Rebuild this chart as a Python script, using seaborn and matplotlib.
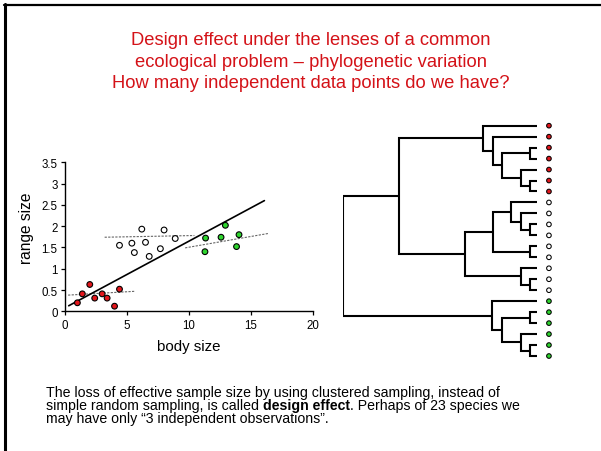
import numpy as np
import pandas as pd
import matplotlib
matplotlib.use("Agg")
import matplotlib.pyplot as plt
import seaborn as sns
from matplotlib.lines import Line2D

# ---------------- data ----------------
red_x = [1.0, 1.4, 2.0, 2.4, 3.0, 3.4, 4.0, 4.4]
red_y = [0.2, 0.41, 0.63, 0.31, 0.41, 0.31, 0.12, 0.52]
white_x = [4.4, 5.4, 5.6, 6.2, 6.5, 6.8, 7.7, 8.0, 8.9]
white_y = [1.55, 1.6, 1.38, 1.93, 1.62, 1.29, 1.47, 1.91, 1.71]
green_x = [11.3, 11.35, 12.6, 12.95, 13.85, 14.05]
green_y = [1.4, 1.72, 1.74, 2.02, 1.52, 1.8]

fit_x = [0.3, 16.1]
fit_y = [0.13, 2.6]
red_fit_x = [0.25, 5.65]
red_fit_y = [0.38, 0.47]
white_fit_x = [3.2, 10.45]
white_fit_y = [1.74, 1.78]
green_fit_x = [9.7, 16.45]
green_fit_y = [1.49, 1.83]

x_ticks = [0, 5, 10, 15, 20]
y_ticks = [0, 0.5, 1, 1.5, 2, 2.5, 3, 3.5]
y_tick_labels = ["0", "0.5", "1", "1.5", "2", "2.5", "3", "3.5"]

# phylogeny: (node depth, [children]); leaves are group codes
red_clade = (7.22, ['r', (7.70, ['r', (8.18, [(9.62, ['r', 'r']),
                                              (9.14, ['r', (9.62, ['r', 'r'])])])])])
white_clade = (6.27, [(7.70, [(8.64, ['w', (9.14, ['w', (9.62, ['w', 'w'])])]),
                              (9.62, ['w', 'w'])]),
                      (9.14, ['w', (9.62, ['w', 'w'])])])
green_clade = (7.68, ['g', (8.18, [(9.62, ['g', 'g']),
                                   (9.14, ['g', (9.62, ['g', 'g'])])])])
upper_depth = 2.87
root_depth = 0.0
tip_depth = 10.0

title_lines = ["Design effect under the lenses of a common",
               "ecological problem \u2013 phylogenetic variation",
               "How many independent data points do we have?"]

# ---------------- style ----------------
RED = "#e3161c"
GREEN = "#2ed52e"
WHITE = "#ffffff"
TITLE_RED = "#d41218"
palette = {'r': RED, 'w': WHITE, 'g': GREEN}

sns.set_style("white")
plt.rcParams['font.family'] = ['Liberation Sans', 'DejaVu Sans']
plt.rcParams['text.color'] = 'black'
plt.rcParams['axes.labelcolor'] = 'black'
plt.rcParams['xtick.color'] = 'black'
plt.rcParams['ytick.color'] = 'black'

W, H = 601, 452
fig = plt.figure(figsize=(W / 100, H / 100), dpi=100)


def fax(l, t, r, b):
    return fig.add_axes([l / W, 1 - b / H, (r - l) / W, (b - t) / H])


# frame lines (slide border on left and top)
fig.add_artist(Line2D([4.5 / W, 4.5 / W], [1 - 5 / H, 0], transform=fig.transFigure,
                      color='black', lw=2.2))
fig.add_artist(Line2D([3.5 / W, 1], [1 - 6 / H, 1 - 6 / H], transform=fig.transFigure,
                      color='black', lw=1.6))

# title
for txt, yc in zip(title_lines, [40.7, 62.7, 83.3]):
    fig.text(311 / W, 1 - yc / H, txt, ha='center', va='center',
             fontsize=13.2, color=TITLE_RED)

# ---------------- scatter ----------------
ax = fax(65, 163.3, 312.7, 312.3)
df = pd.DataFrame({
    'body': red_x + white_x + green_x,
    'range': red_y + white_y + green_y,
    'group': ['r'] * len(red_x) + ['w'] * len(white_x) + ['g'] * len(green_x),
})
for gx, gy in [(red_fit_x, red_fit_y), (white_fit_x, white_fit_y), (green_fit_x, green_fit_y)]:
    sns.lineplot(x=gx, y=gy, ax=ax, color='#666666', lw=0.8,
                 linestyle=(0, (2.0, 1.2)), zorder=1)
sns.lineplot(x=fit_x, y=fit_y, ax=ax, color='black', lw=1.2, zorder=2)
sns.scatterplot(data=df, x='body', y='range', hue='group', palette=palette,
                edgecolor='black', linewidth=0.8, s=17, legend=False, ax=ax,
                clip_on=False, zorder=3)
ax.set_xlim(0, 20)
ax.set_ylim(0, 3.5)
ax.set_xticks(x_ticks)
ax.set_xticklabels([str(t) for t in x_ticks])
ax.set_yticks(y_ticks)
ax.set_yticklabels(y_tick_labels)
sns.despine(ax=ax)
for sp in ['left', 'bottom']:
    ax.spines[sp].set_linewidth(1.0)
    ax.spines[sp].set_color('black')
ax.tick_params(axis='both', direction='out', length=3.2, width=0.9, color='black',
               labelsize=8.3, pad=2.2, left=True, bottom=True, labelcolor='black')
ax.set_xlabel('body size', fontsize=10.8, labelpad=6)
ax.set_ylabel('range size', fontsize=11.2)
ax.yaxis.set_label_coords((34.5 - 65) / 247.7, (312.3 - 228) / 149)

# ---------------- dendrogram ----------------
ax2 = fax(343.3, 121.2, 343.3 + 11.2 * 19.4, 362.5)
tree = (root_depth, [(upper_depth, [red_clade, white_clade]), green_clade])
leaf_groups = []


def draw(node):
    if isinstance(node, str):
        idx = len(leaf_groups)
        leaf_groups.append(node)
        return float(idx), tip_depth
    d, kids = node
    res = [draw(k) for k in kids]
    (y0, d0), (y1, d1) = res[0], res[-1]
    ax2.plot([d0, d, d, d1], [y0, y0, y1, y1], color='black', lw=1.5,
             solid_joinstyle='miter', solid_capstyle='butt')
    return (y0 + y1) / 2, d


draw(tree)
n_leaves = len(leaf_groups)
leaf_df = pd.DataFrame({'x': [tip_depth + 0.6] * n_leaves,
                        'y': np.arange(n_leaves), 'group': leaf_groups})
sns.scatterplot(data=leaf_df, x='x', y='y', hue='group', palette=palette,
                edgecolor='black', linewidth=0.75, s=11, legend=False, ax=ax2,
                clip_on=False, zorder=3)
ax2.set_xlim(0, 11.2)
ax2.set_ylim(n_leaves - 0.5, -0.5)
ax2.axis('off')

# ---------------- bottom text ----------------
bx = 46 / W
fs = 10.15
yb = [396.7, 410.0, 423.3]
t1 = fig.text(bx, 1 - yb[0] / H, "The loss of effective sample size by using clustered sampling, instead of",
              fontsize=fs, va='baseline', ha='left')
t2 = fig.text(bx, 1 - yb[1] / H, "simple random sampling, is called ",
              fontsize=fs, va='baseline', ha='left')
t2b = fig.text(0, 0, "design effect", fontsize=fs, fontweight='bold', va='baseline', ha='left')
t2c = fig.text(0, 0, ". Perhaps of 23 species we", fontsize=fs, va='baseline', ha='left')
t3 = fig.text(bx, 1 - yb[2] / H, "may have only \u201c3 independent observations\u201d.",
              fontsize=fs, va='baseline', ha='left')

fig.canvas.draw()
r = fig.canvas.get_renderer()
bb = t2.get_window_extent(r)
t2b.set_position(((bb.x1) / W, 1 - yb[1] / H))
fig.canvas.draw()
bb2 = t2b.get_window_extent(r)
t2c.set_position(((bb2.x1) / W, 1 - yb[1] / H))

fig.savefig("out.png", dpi=100)
